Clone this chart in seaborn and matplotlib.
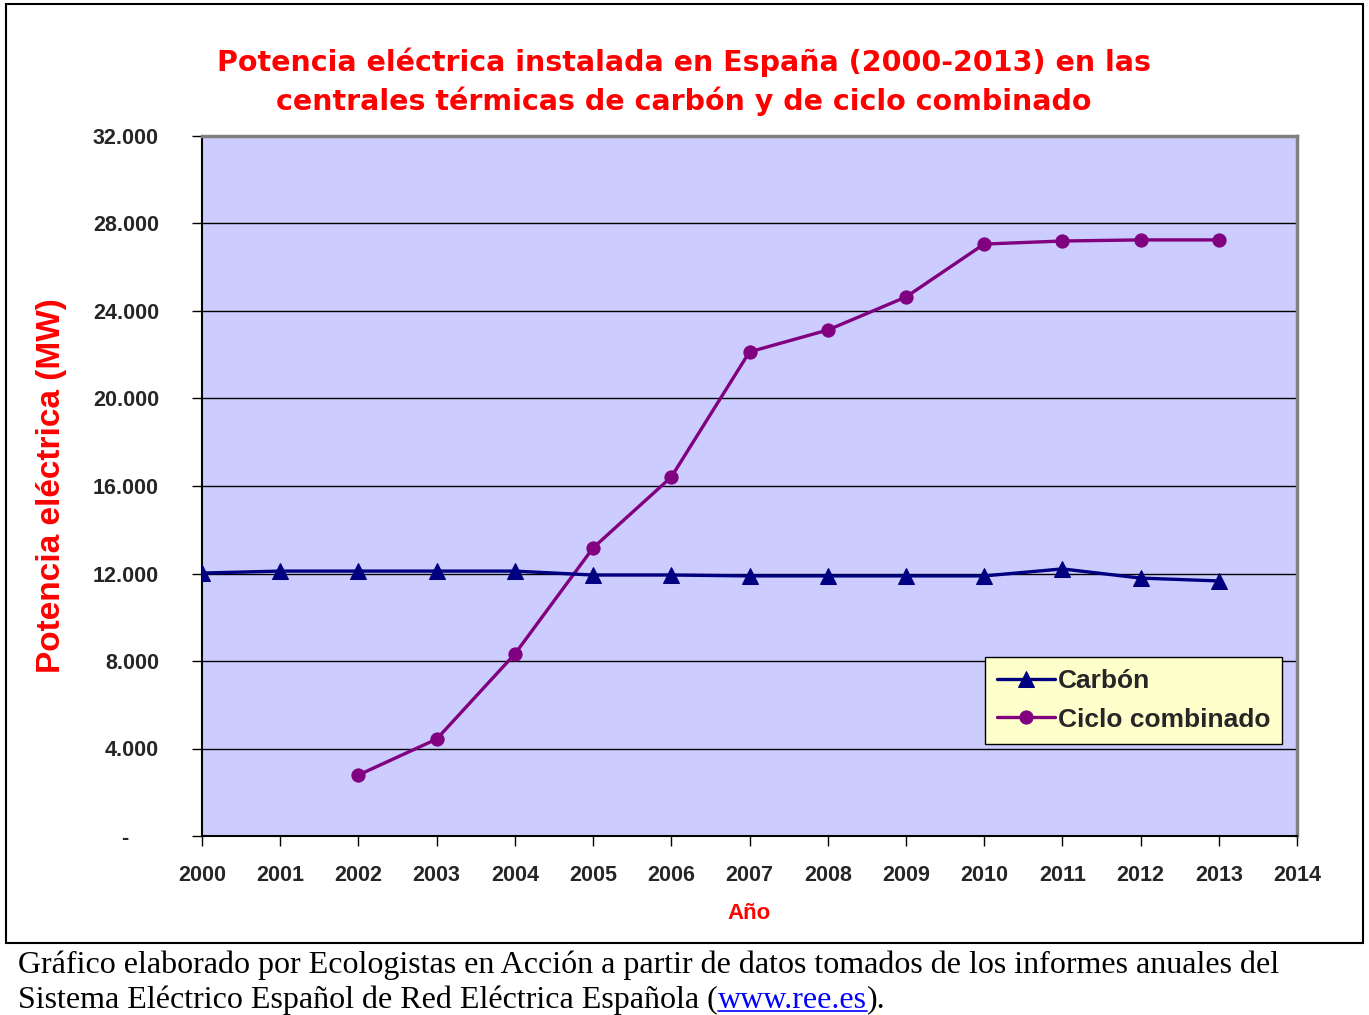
import numpy as np
import pandas as pd
import matplotlib
matplotlib.use("Agg")
import matplotlib.pyplot as plt
import seaborn as sns
from matplotlib.ticker import FuncFormatter

# datos (MW)
years_carbon = [2000, 2001, 2002, 2003, 2004, 2005, 2006, 2007, 2008, 2009, 2010, 2011, 2012, 2013]
carbon = [12020, 12110, 12110, 12110, 12110, 11930, 11930, 11890, 11890, 11890, 11890, 12210, 11790, 11660]
years_ciclo = [2002, 2003, 2004, 2005, 2006, 2007, 2008, 2009, 2010, 2011, 2012, 2013]
ciclo = [2790, 4430, 8320, 13170, 16410, 22130, 23130, 24640, 27060, 27200, 27250, 27250]

x_ticks = list(range(2000, 2015))
y_ticks = list(range(0, 32001, 4000))

sns.set_theme(style="white")
plt.rcParams['font.family'] = ['Liberation Sans', 'DejaVu Sans']

fig = plt.figure(figsize=(13.69, 10.15), dpi=100)
ax = fig.add_axes([202 / 1369, 1 - 836 / 1015, 1095 / 1369, 700 / 1015])
ax.set_facecolor('#CCCCFF')

df_c = pd.DataFrame({'year': years_carbon, 'mw': carbon})
df_cc = pd.DataFrame({'year': years_ciclo, 'mw': ciclo})

sns.lineplot(data=df_c, x='year', y='mw', ax=ax, color='#000080', linewidth=2.4,
             marker='^', markersize=11, markeredgecolor='#000080', label='Carbón', zorder=4)
sns.lineplot(data=df_cc, x='year', y='mw', ax=ax, color='#800080', linewidth=2.4,
             marker='o', markersize=9.5, markeredgecolor='#800080', label='Ciclo combinado', zorder=3)

ax.set_xlim(2000, 2014)
ax.set_ylim(0, 32000)
ax.set_xticks(x_ticks)
ax.set_yticks(y_ticks)
# formato contable: cero como guion, separador de miles con punto
ax.yaxis.set_major_formatter(FuncFormatter(lambda v, p: '-     ' if v == 0 else f'{int(v):,}'.replace(',', '.')))
ax.grid(axis='y', color='black', linewidth=1)
ax.set_axisbelow(True)

ax.tick_params(axis='both', which='major', direction='out', length=7, width=1, color='black',
               bottom=True, left=True, labelsize=15.5)
ax.tick_params(axis='x', pad=14)
ax.tick_params(axis='y', pad=24)
for lbl in ax.get_xticklabels() + ax.get_yticklabels():
    lbl.set_fontweight('bold')

for s in ['left', 'bottom']:
    ax.spines[s].set_color('black')
    ax.spines[s].set_linewidth(1.5)
for s in ['right', 'top']:
    ax.spines[s].set_color('#808080')
    ax.spines[s].set_linewidth(2.5)

ax.set_xlabel('Año', color='#FF0000', fontsize=16, fontweight='bold', labelpad=12)
ax.set_ylabel('Potencia eléctrica (MW)', color='#FF0000', fontsize=24, fontweight='bold')
ax.yaxis.set_label_coords(-0.123, 0.5)

leg = ax.legend(loc='lower right', bbox_to_anchor=(0.9865, 0.132), frameon=True, fancybox=False,
                fontsize=19, handlelength=2.2, handletextpad=0.1, borderpad=0.45, labelspacing=0.55,
                borderaxespad=0)
leg.get_frame().set_facecolor('#FFFFCC')
leg.get_frame().set_edgecolor('black')
leg.get_frame().set_alpha(1)
for t in leg.get_texts():
    t.set_fontweight('bold')

fig.text(684 / 1369, 1 - 82 / 1015,
         'Potencia eléctrica instalada en España (2000-2013) en las\ncentrales térmicas de carbón y de ciclo combinado',
         ha='center', va='center', color='#FF0000', fontsize=20.5, fontweight='bold',
         family=['DejaVu Sans'], linespacing=1.4)

# marco exterior y pie de texto
frame = plt.Rectangle((6 / 1369, 1 - 943 / 1015), 1357 / 1369, 939 / 1015, transform=fig.transFigure,
                      fill=False, edgecolor='black', linewidth=1.5)
fig.add_artist(frame)
cap_size = 23
fig.text(18 / 1369, 1 - 965 / 1015,
         'Gráfico elaborado por Ecologistas en Acción a partir de datos tomados de los informes anuales del',
         ha='left', va='center', fontsize=cap_size, family=['Liberation Serif'], color='black')
t1 = fig.text(18 / 1369, 1 - 1000 / 1015, 'Sistema Eléctrico Español de Red Eléctrica Española (',
              ha='left', va='center', fontsize=cap_size, family=['Liberation Serif'], color='black')
fig.canvas.draw()
r = fig.canvas.get_renderer()
bb = t1.get_window_extent(renderer=r)
x1 = bb.x1 / fig.bbox.width
t2 = fig.text(x1, 1 - 1000 / 1015, 'www.ree.es', ha='left', va='center', fontsize=cap_size,
              family=['Liberation Serif'], color='#0000FF')
bb2 = t2.get_window_extent(renderer=r)
fig.add_artist(plt.Line2D([bb2.x0 / fig.bbox.width, bb2.x1 / fig.bbox.width],
                          [bb2.y0 / fig.bbox.height + 0.003] * 2, transform=fig.transFigure,
                          color='#0000FF', linewidth=1.2))
fig.text(bb2.x1 / fig.bbox.width, 1 - 1000 / 1015, ').', ha='left', va='center', fontsize=cap_size,
         family=['Liberation Serif'], color='black')

fig.savefig('out.png', dpi=100, facecolor='white')
